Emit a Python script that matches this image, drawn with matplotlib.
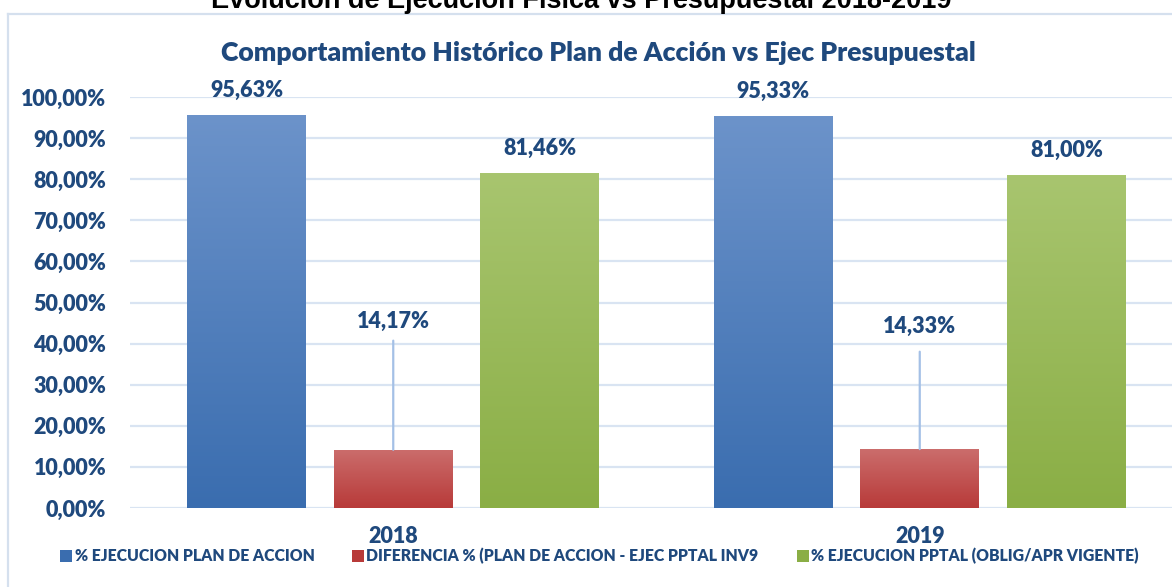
import numpy as np
import matplotlib
matplotlib.use("Agg")
import matplotlib.pyplot as plt
from matplotlib.colors import LinearSegmentedColormap
from matplotlib.patches import Rectangle
from matplotlib.lines import Line2D

# ---- data ----
years = ["2018", "2019"]
plan_accion = [95.63, 95.33]
diferencia = [14.17, 14.33]
ejec_pptal = [81.46, 81.00]
series_names = ["% EJECUCION PLAN DE ACCION",
                "DIFERENCIA % (PLAN DE ACCION - EJEC PPTAL INV9",
                "% EJECUCION PPTAL (OBLIG/APR VIGENTE)"]
yticks = [0, 10, 20, 30, 40, 50, 60, 70, 80, 90, 100]
main_title = "Evolución de Ejecución Física vs Presupuestal 2018-2019"
chart_title = "Comportamiento Histórico Plan de Acción vs Ejec Presupuestal"

# ---- style ----
W, H = 1172, 587
DPI = 100
TXT = "#1f497d"
GRID = "#d9e4f2"
FONT = "Lato"
WEIGHT = "heavy"
grads = [("#6c93ca", "#3a6daf"), ("#cb6d6c", "#b83a39"), ("#a8c56f", "#8aae45")]

fig = plt.figure(figsize=(W / DPI, H / DPI), dpi=DPI)
fig.patch.set_facecolor("white")

def fx(px):
    return px / W

def fy(py):
    return 1 - py / H

# chart frame border (partially visible)
fig.add_artist(Line2D([fx(8), fx(8)], [fy(14), fy(590)], color="#d5e0ee", lw=1.6,
                      transform=fig.transFigure))
fig.add_artist(Line2D([fx(8), fx(1180)], [fy(14), fy(14)], color="#d5e0ee", lw=1.6,
                      transform=fig.transFigure))

ax = fig.add_axes([fx(130), fy(508), fx(1183) - fx(130), fy(97) - fy(508)])
ax.set_facecolor("none")
for s in ax.spines.values():
    s.set_visible(False)
ax.set_yticks(yticks)
ax.set_yticklabels([f"{v:.2f}".replace(".", ",") + "%" for v in yticks])
ax.tick_params(axis="y", length=0, pad=17, labelsize=15.5, labelcolor=TXT)
ax.tick_params(axis="x", length=0, pad=13, labelsize=15.5, labelcolor=TXT)
ax.yaxis.grid(True, color=GRID, lw=1.6)
ax.set_axisbelow(True)

x = np.arange(len(years))
bw = 0.226
off = 0.2785
all_series = [plan_accion, diferencia, ejec_pptal]
bar_sets = []
for i, vals in enumerate(all_series):
    bars = ax.bar(x + (i - 1) * off, vals, bw, color=grads[i][1], zorder=2, label=series_names[i])
    bar_sets.append(bars)
    cmap = LinearSegmentedColormap.from_list(f"g{i}", [grads[i][1], grads[i][0]])
    for b in bars:
        x0, y0 = b.get_x(), b.get_y()
        w, h = b.get_width(), b.get_height()
        grad = np.linspace(0, 1, 256).reshape(-1, 1)
        im = ax.imshow(grad, cmap=cmap, aspect="auto", origin="lower",
                       extent=[x0, x0 + w, y0, y0 + h], zorder=3)
        im.set_clip_path(b)
ax.set_xlim(-0.5, 1.5)
ax.set_ylim(0, 100)
ax.set_xticks(x)
ax.set_xticklabels(years)
for lab in ax.get_yticklabels() + ax.get_xticklabels():
    lab.set_fontfamily(FONT)
    lab.set_fontweight(WEIGHT)

lab_kw = dict(fontfamily=FONT, fontweight=WEIGHT, fontsize=15.5, color=TXT, ha="center", va="center")
fmt = lambda v: f"{v:.2f}".replace(".", ",") + "%"
for i in (0, 2):
    for b, v in zip(bar_sets[i], all_series[i]):
        ax.annotate(fmt(v), xy=(b.get_x() + b.get_width() / 2, v), xytext=(0, 17.5),
                    textcoords="offset points", zorder=5, **lab_kw)

# moved labels with leader lines for the difference series
label_heights = [45.3, 44.3]
leader_gaps = [4, 9]
for b, v, ly, g in zip(bar_sets[1], diferencia, label_heights, leader_gaps):
    cx = b.get_x() + b.get_width() / 2
    ax.annotate(fmt(v), xy=(cx, v), xytext=(cx, ly), zorder=5,
                arrowprops=dict(arrowstyle="-", color="#a4c0e6", lw=1.6,
                                shrinkA=g, shrinkB=0), **lab_kw)

# titles
fig.text(fx(581), fy(8), main_title, fontfamily="Liberation Sans", fontweight="bold",
         fontsize=19.5, color="black", ha="center", va="baseline")
fig.text(fx(598), fy(53), chart_title, fontfamily=FONT, fontweight=WEIGHT,
         fontsize=19.2, color=TXT, ha="center", va="center")

# legend
leg_items = [(60, 75), (352, 366), (797, 811)]
ly = 556
for (sq, tx), name, bars in zip(leg_items, series_names, bar_sets):
    fig.add_artist(Rectangle((fx(sq), fy(ly + 6)), fx(12), fy(ly - 6) - fy(ly + 6),
                             facecolor=bars[0].get_facecolor(), edgecolor="none",
                             transform=fig.transFigure))
    fig.text(fx(tx), fy(ly), name, fontfamily=FONT, fontweight=WEIGHT, fontsize=11.3,
             color=TXT, ha="left", va="center")

fig.savefig("out.png", dpi=DPI, facecolor="white")
